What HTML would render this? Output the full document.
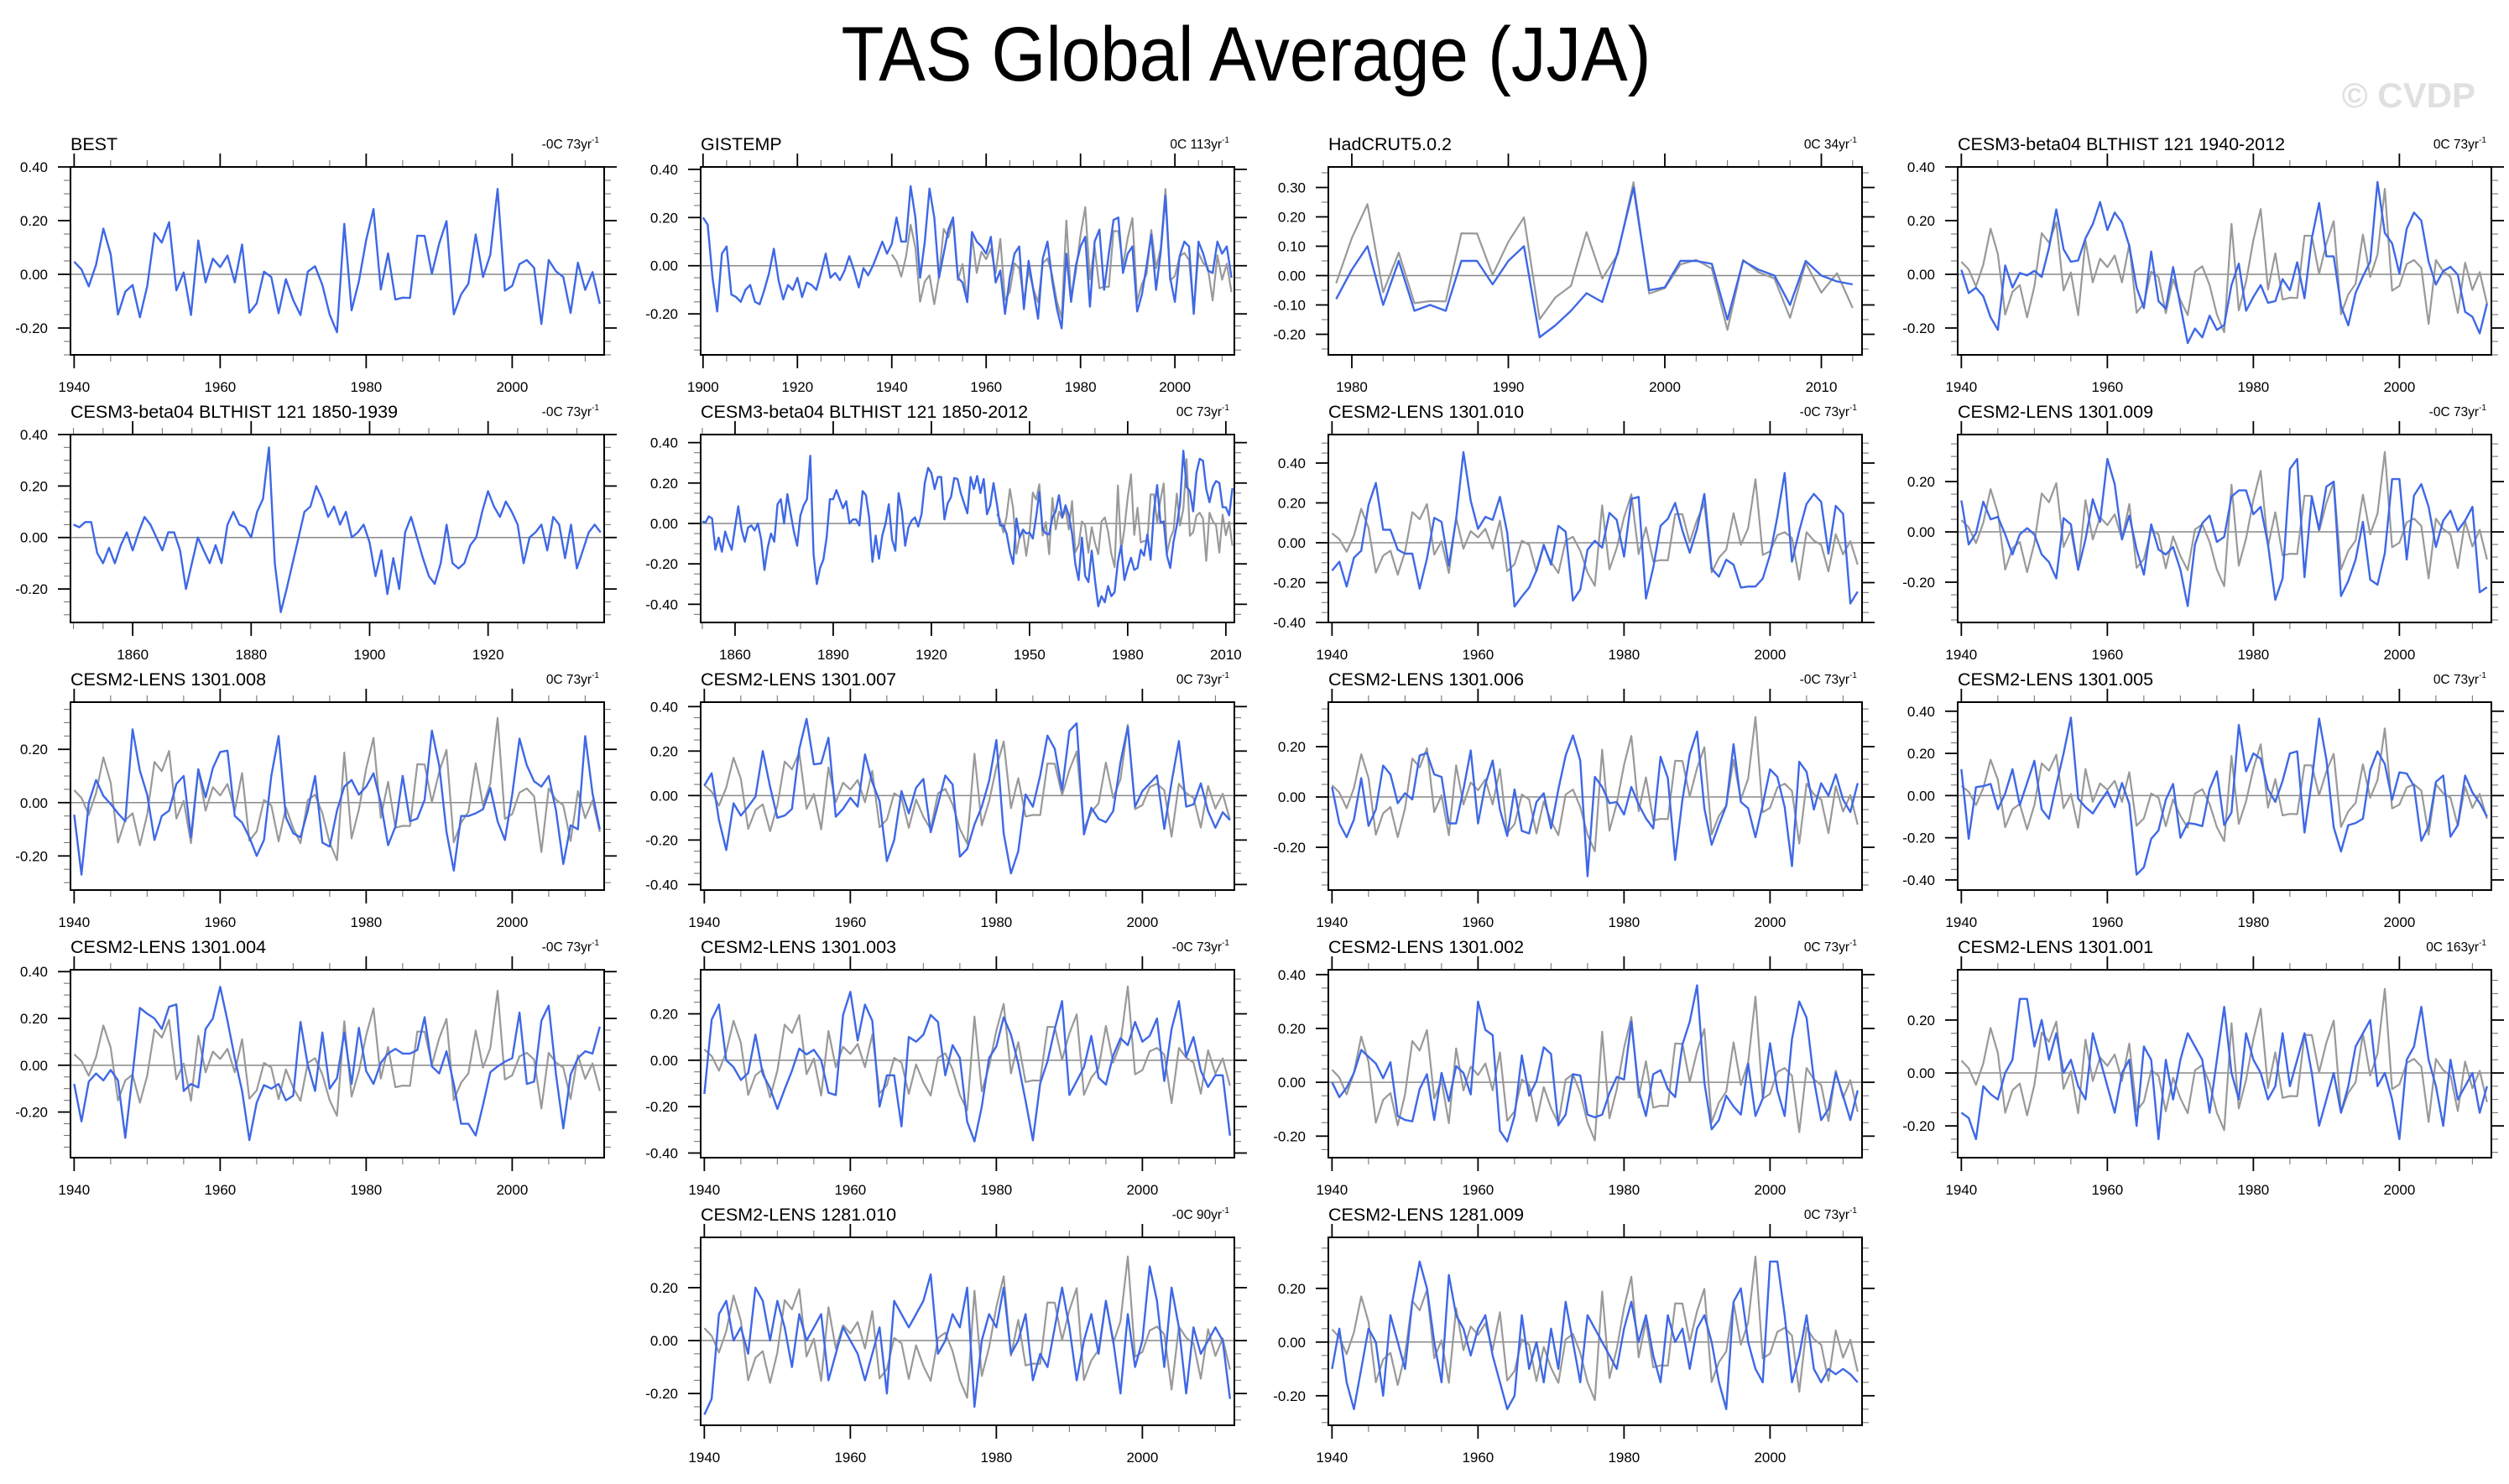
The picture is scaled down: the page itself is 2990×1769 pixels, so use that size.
<!DOCTYPE html>
<html><head><meta charset="utf-8"><title>TAS Global Average (JJA)</title>
<style>
html,body{margin:0;padding:0;background:#fff;}
svg{display:block;font-family:"Liberation Sans",Arial,sans-serif;}
</style></head>
<body>
<svg id="chart" width="2990" height="1769" viewBox="0 0 2990 1769" xmlns="http://www.w3.org/2000/svg">
<rect width="2990" height="1769" fill="#fff"/>
<text x="1485" y="96" font-size="92" text-anchor="middle" textLength="965" lengthAdjust="spacingAndGlyphs" fill="#000">TAS Global Average (JJA)</text>
<text x="2950" y="128" font-size="42" font-weight="bold" text-anchor="end" fill="#e0e0e0">© CVDP</text>
<g id="panels"></g>
</svg>
<script>
// Observed reference (BEST) 1940-2012 - gray line
const best = [.047,.018,-.045,.036,.17,.075,-.15,-.065,-.04,-.16,-.045,.153,.118,.194,-.06,.007,-.152,.126,-.03,.058,.027,.07,-.03,.111,-.143,-.108,.01,-.01,-.145,-.018,-.096,-.152,.01,.03,-.04,-.15,-.216,.188,-.134,-.026,.128,.243,-.057,.078,-.094,-.087,-.088,.144,.143,.002,.115,.198,-.149,-.075,-.035,.148,-.01,.073,.318,-.061,-.043,.038,.053,.024,-.185,.053,.011,-.01,-.144,.043,-.058,.008,-.11];
const gistemp = [.20,.17,-.05,-.19,.05,.08,-.12,-.13,-.15,-.10,-.08,-.15,-.16,-.10,-.03,.07,-.06,-.14,-.08,-.10,-.05,-.13,-.07,-.08,-.10,-.03,.05,-.05,-.03,-.06,-.02,.04,-.02,-.09,-.01,-.04,.00,.05,.10,.05,.09,.20,.10,.10,.33,.20,-.05,.10,.32,.20,-.05,.05,.15,.20,-.05,-.07,-.15,.14,.10,.08,.05,.12,-.07,-.02,-.20,-.05,.05,.08,-.18,.02,-.10,-.22,.03,.10,-.06,-.18,-.26,.05,-.15,.00,.08,.12,-.17,.10,.15,-.10,.05,.19,.20,-.03,.05,.08,-.19,-.12,.00,.13,-.10,.06,.29,-.05,-.15,.04,.10,.08,-.20,.10,.05,-.02,-.03,.10,.05,.08,-.05];
const hadcrut = [-.08,.02,.10,-.10,.05,-.12,-.10,-.12,.05,.05,-.03,.05,.10,-.21,-.17,-.12,-.06,-.09,.08,.30,-.05,-.04,.05,.05,.04,-.15,.05,.02,.00,-.10,.05,.00,-.02,-.03];
const c3_1940 = [.017,-.07,-.05,-.082,-.16,-.207,.033,-.049,.005,-.004,.013,-.01,.098,.242,.093,.047,.052,.134,.187,.269,.165,.23,.193,.106,-.049,-.126,.085,-.1,-.128,.027,-.117,-.256,-.202,-.235,-.154,-.207,-.189,-.04,.04,-.136,-.084,-.04,-.106,-.1,-.018,-.059,.045,-.089,.134,.266,.067,.067,-.117,-.19,-.069,-.008,.047,.344,.154,.115,.003,.17,.23,.2,.047,-.038,.012,.028,-.002,-.14,-.158,-.22,-.109];
const c3_1850a = [.05,.04,.06,.06,-.06,-.10,-.04,-.10,-.03,.02,-.05,.02,.08,.05,.00,-.05,.02,.02,-.05,-.20,-.10,.00,-.05,-.10,-.03,-.10,.05,.10,.05,.04,.00,.10,.15,.35,-.10,-.29,-.20,-.10,.00,.10,.12,.20,.15,.08,.12,.05,.10,.00,.02,.05,-.02,-.15,-.05,-.22,-.08,-.20,.02,.08,.00,-.08,-.15,-.18,-.10,.05,-.10,-.12,-.10,-.03,.00,.10,.18,.12,.08,.14,.10,.05,-.10,.00,.02,.05,-.05,.08,.05,-.08,.05,-.12,-.05,.02,.05,.02];
const c3_1850b = [.01,.005,.035,.025,-.13,-.07,-.14,-.04,-.09,-.13,-.02,.085,-.03,-.09,-.02,-.01,-.035,.00,-.08,-.23,-.12,-.05,-.09,.095,.12,.00,.145,.05,-.04,-.11,.04,.09,.12,.335,-.15,-.3,-.22,-.18,-.07,.12,.12,.165,.12,.075,.11,.00,.02,.02,-.01,.16,.14,.03,-.19,-.06,-.175,-.06,.00,.095,-.08,-.135,.15,.06,-.11,-.02,.015,.03,-.015,.045,.2,.275,.25,.17,.23,.23,.02,.1,.13,.225,.22,.15,.1,.05,.23,.17,.235,.15,.22,.045,.09,.2,.1,-.01,-.01,-.05,-.14,-.2,.025,-.07,-.03,-.05,-.045,-.075,.03,.155,-.03,-.05,-.055,.03,.06,.14,.03,.09,.04,-.05,-.2,-.28,-.07,-.26,-.29,-.135,-.28,-.41,-.36,-.39,-.31,-.36,-.34,-.19,-.11,-.28,-.22,-.17,-.23,-.22,-.13,-.16,-.055,-.18,.06,.19,.005,.01,-.16,-.22,-.09,-.01,.1,.36,.18,.16,.06,.25,.32,.31,.17,.105,.18,.21,.2,.08,.08,.04,.175];
const l010 = [-.14,-.095,-.22,-.075,-.04,.19,.3,.065,.065,-.035,-.055,-.055,-.23,-.08,.125,.105,-.115,.12,.455,.21,.07,.13,.115,.23,.05,-.32,-.27,-.225,-.14,-.01,-.11,.085,.055,-.29,-.235,-.035,.01,-.025,.15,.115,-.07,.22,.23,-.28,-.125,.085,.12,.2,.06,-.05,.07,.245,-.13,-.17,-.085,-.11,-.225,-.22,-.22,-.18,-.06,.13,.35,-.095,.06,.195,.245,.205,-.055,.185,.145,-.305,-.245];
const l009 = [.125,-.05,-.005,.12,.05,.06,-.01,-.09,-.01,.015,-.01,-.09,-.12,-.185,.055,.03,-.15,-.03,.13,.04,.29,.19,-.03,.065,-.07,-.17,.03,-.07,-.09,-.06,-.15,-.295,-.05,.035,.065,-.04,-.02,.14,.165,.165,.07,.1,-.05,-.27,-.185,.25,.29,-.18,.14,.01,.18,.2,-.255,-.195,-.11,.04,-.19,-.21,-.085,.21,.21,-.11,.145,.19,.1,-.06,.045,.085,.005,.045,.1,-.24,-.22];
const l008 = [-.045,-.27,.00,.085,.025,-.005,-.04,-.07,.275,.12,.03,-.14,-.05,-.03,.07,.1,-.13,.125,.02,.13,.19,.195,-.05,-.075,-.13,-.2,-.14,.1,.25,-.055,-.115,-.13,-.03,.1,-.15,-.165,-.03,.06,.085,.03,.06,.11,.00,-.16,-.09,.1,-.07,-.06,.01,.27,.14,-.11,-.255,-.05,-.05,-.04,-.025,.055,-.07,-.14,.03,.24,.14,.08,.06,.1,-.03,-.23,-.085,-.1,.25,.035,-.1];
const l007 = [.045,.1,-.11,-.245,-.035,-.09,-.05,-.005,.2,.04,-.1,-.09,-.06,.21,.345,.14,.145,.26,-.095,-.06,-.01,-.05,.185,.06,-.025,-.295,-.2,.02,-.08,.035,.075,-.165,-.04,.09,.05,-.275,-.24,-.13,-.05,.065,.25,-.17,-.35,-.25,.005,-.05,.09,.27,.21,.025,.29,.325,-.175,-.055,-.105,-.12,-.07,.15,.31,-.05,.02,.055,.09,-.15,.06,.245,-.05,-.04,.055,-.07,-.145,-.075,-.11];
const l006 = [.04,-.105,-.16,-.09,.075,-.115,-.05,.125,.09,-.025,.015,-.01,.165,.175,.09,.08,-.105,-.105,.03,.185,-.105,.05,.145,-.05,-.155,.03,-.135,-.145,-.02,.015,-.125,.03,.165,.245,.145,-.315,.08,.04,-.025,-.02,-.07,.04,-.03,-.085,-.125,.16,.075,-.25,-.01,.17,.26,-.045,-.19,-.11,-.035,.21,-.02,-.045,-.16,-.03,.11,.08,-.04,-.275,.14,.1,-.05,.055,.005,.09,-.01,-.06,.055];
const l005 = [.125,-.205,.04,.045,.055,-.065,.01,.125,-.045,.06,.165,-.065,-.11,.05,.2,.37,-.015,-.055,-.085,-.03,.02,-.055,.06,-.04,-.375,-.34,-.205,-.165,-.02,.055,-.2,-.13,-.135,-.145,.03,.115,-.14,-.08,.335,.115,.2,.175,.03,-.03,.07,.2,.21,-.175,.07,.365,.17,-.15,-.265,-.14,-.13,-.11,.12,.21,.15,-.02,.11,.105,.045,-.215,-.145,.065,.095,-.195,-.14,.095,.015,-.035,-.1];
const l004 = [-.08,-.24,-.07,-.035,-.065,-.02,-.065,-.31,-.04,.245,.22,.2,.155,.25,.26,-.11,-.08,-.095,.155,.2,.335,.19,.03,-.11,-.32,-.16,-.085,-.1,-.08,-.15,-.13,.185,.00,-.11,.14,-.1,-.055,.14,-.08,.16,-.025,-.08,.01,.05,.07,.05,.05,.065,.205,-.005,-.035,.06,-.08,-.25,-.25,-.3,-.17,-.03,-.005,.015,.03,.225,-.08,-.07,.19,.255,-.04,-.27,-.04,.03,.06,.05,.165];
const l003 = [-.145,.175,.24,.00,-.03,-.085,-.055,.11,-.06,-.12,-.21,-.125,-.045,.05,.025,.045,.00,-.14,-.15,.195,.295,.085,.24,.17,-.2,-.065,-.065,-.285,.1,.08,.11,.195,.165,-.065,.065,.01,-.265,-.35,-.2,.01,.06,.185,.11,-.015,-.175,-.345,-.1,-.005,.135,.255,-.15,-.09,-.03,.105,-.075,-.105,.02,.095,.065,.165,.08,.105,.18,-.09,.135,.255,.015,.1,-.045,-.115,-.065,-.065,-.325];
const l002 = [.00,-.055,-.02,.035,.12,.095,.07,.015,.075,-.125,-.14,-.145,-.025,.03,-.14,.035,-.07,.06,.035,-.045,.3,.195,.175,-.18,-.22,-.125,.1,-.05,.005,.13,.105,-.16,-.12,.03,.025,-.12,-.13,-.12,-.04,.02,.01,.225,-.03,-.125,.03,.045,-.025,-.055,.14,.225,.36,.00,-.175,-.14,-.05,-.09,-.12,.07,-.125,-.06,.145,-.03,-.125,.16,.3,.24,.01,-.14,-.1,.035,-.05,-.14,-.03];
const l001 = [-.15,-.17,-.25,-.05,-.08,-.10,.00,.05,.28,.28,.10,.20,.05,.15,.00,.05,-.05,-.10,.15,.05,-.05,-.15,.00,.05,-.20,.10,.05,-.25,.05,-.10,.05,.15,.10,.05,-.15,.05,.25,.00,-.10,.15,.05,.00,-.10,-.05,.15,-.05,.05,.15,.00,-.20,-.10,.00,-.15,-.05,.10,.15,.20,-.05,.00,-.10,-.25,.05,.10,.25,.05,-.05,-.20,.05,-.10,-.05,.00,-.15,-.05];
const m010 = [-.28,-.22,.10,.15,.00,.05,-.05,.20,.15,.00,.15,.05,-.10,.10,.00,.05,.10,-.15,-.05,.05,.00,-.05,-.15,-.05,.05,-.20,.15,.10,.05,.10,.15,.25,-.05,.00,.10,.05,.20,-.25,.00,.10,.05,.20,-.05,.00,.10,-.15,-.05,-.10,.05,.20,.05,-.15,.00,.10,-.05,.15,.00,-.20,.10,-.10,.00,.28,.15,-.10,.20,.05,-.20,.05,-.05,.00,.05,.00,-.22];
const m009 = [-.10,.05,-.15,-.25,-.10,.05,.00,-.20,.10,.00,-.10,.15,.30,.20,.00,-.15,.25,.10,.05,-.05,.05,.10,-.05,-.15,-.25,-.20,.10,-.10,.00,-.15,.05,-.10,.15,.00,-.15,.10,.05,.00,-.05,-.10,.05,.15,.00,.10,-.05,-.15,.10,.00,.05,-.10,.05,.10,.00,-.15,-.25,.15,.20,.00,-.10,-.15,.30,.30,.10,-.15,-.05,.10,-.10,-.15,-.10,-.12,-.10,-.12,-.15];

const titles = ["BEST","GISTEMP","HadCRUT5.0.2","CESM3-beta04 BLTHIST 121 1940-2012","CESM3-beta04 BLTHIST 121 1850-1939","CESM3-beta04 BLTHIST 121 1850-2012","CESM2-LENS 1301.010","CESM2-LENS 1301.009","CESM2-LENS 1301.008","CESM2-LENS 1301.007","CESM2-LENS 1301.006","CESM2-LENS 1301.005","CESM2-LENS 1301.004","CESM2-LENS 1301.003","CESM2-LENS 1301.002","CESM2-LENS 1301.001","CESM2-LENS 1281.010","CESM2-LENS 1281.009"];
const trendLabels = ["-0C 73yr","0C 113yr","0C 34yr","0C 73yr","-0C 73yr","0C 73yr","-0C 73yr","-0C 73yr","0C 73yr","0C 73yr","-0C 73yr","0C 73yr","-0C 73yr","-0C 73yr","0C 73yr","0C 163yr","-0C 90yr","0C 73yr"];
const blueSeries = [best,gistemp,hadcrut,c3_1940,c3_1850a,c3_1850b,l010,l009,l008,l007,l006,l005,l004,l003,l002,l001,m010,m009];
const startYears = [1940,1900,1979,1940,1850,1850,1940,1940,1940,1940,1940,1940,1940,1940,1940,1940,1940,1940];
const grayStart = [null,1940,1979,1940,null,1940,1940,1940,1940,1940,1940,1940,1940,1940,1940,1940,1940,1940];
const yMin = [-.3,-.37,-.27,-.3,-.33,-.49,-.40,-.36,-.328,-.425,-.37,-.448,-.395,-.42,-.28,-.32,-.32,-.31];
const yMax = [.4,.41,.37,.4,.40,.44,.543,.387,.377,.42,.377,.443,.408,.39,.418,.39,.39,.39];
const yStep = [.2,.2,.1,.2,.2,.2,.2,.2,.2,.2,.2,.2,.2,.2,.2,.2,.2,.2];
const xStep = [20,20,10,20,20,30,20,20,20,20,20,20,20,20,20,20,20,20];
const xFirstTick = [1940,1900,1980,1940,1860,1860,1940,1940,1940,1940,1940,1940,1940,1940,1940,1940,1940,1940];

const colLeft = [84,835,1583,2333];
const rowTop = [199,518,837,1156,1475];
const W = 636, H = 224;
const NS = "http://www.w3.org/2000/svg";
const root = document.getElementById('panels');

function mk(tag, attrs, parent){
  const e = document.createElementNS(NS, tag);
  for (const k in attrs) e.setAttribute(k, attrs[k]);
  parent.appendChild(e);
  return e;
}
function fmt(v){ return (Math.abs(v) < 1e-9 ? 0 : v).toFixed(2); }

titles.forEach((title, i) => {
  const col = i < 16 ? i % 4 : i - 15;
  const row = i < 16 ? Math.floor(i / 4) : 4;
  const L = colLeft[col], T = rowTop[row];
  const data = blueSeries[i];
  const x0 = startYears[i] - 0.5;
  const x1 = startYears[i] + data.length - 1 + 0.6;
  const xs = y => L + (y - x0) / (x1 - x0) * W;
  const ys = v => T + (yMax[i] - v) / (yMax[i] - yMin[i]) * H;

  const g = mk('g', {}, root);
  
  

  const t = mk('text', {x: L, y: T - 20, 'font-size': 21.5, fill: '#000'}, g);
  t.textContent = title;
  
  

  const tr = mk('text', {x: L + W - 6, y: T - 22, 'font-size': 15.5, 'text-anchor': 'end', fill: '#000'}, g);
  tr.textContent = trendLabels[i];
  const sup = mk('tspan', {dy: -7, 'font-size': 10}, tr);
  sup.textContent = '-1';
  
  

  const tk = mk('g', {stroke: '#000', 'stroke-width': 1.6}, g);
  
  
  const minorX = xStep[i] === 30 ? 10 : (xStep[i] === 10 ? 2 : 5);
  for (let yr = Math.ceil(x0 / minorX) * minorX; yr <= x1; yr += minorX) {
    const X = xs(yr);
    const major = ((yr - xFirstTick[i]) % xStep[i] === 0);
    const len = major ? 16 : 8;
    mk('line', {x1: X, y1: T, x2: X, y2: T - len, 'stroke-width': major ? 1.8 : 1.1, stroke: major ? '#000' : '#777'}, tk);
    mk('line', {x1: X, y1: T + H, x2: X, y2: T + H + len, 'stroke-width': major ? 1.8 : 1.1, stroke: major ? '#000' : '#777'}, tk);
    if (major) {
      const lb = mk('text', {x: X, y: T + H + 44, 'font-size': 17, 'text-anchor': 'middle', fill: '#000', stroke: 'none'}, g);
      lb.textContent = yr;
      
      
    }
  }
  for (let k = Math.ceil(yMin[i] / 0.05 - 1e-6); k * 0.05 <= yMax[i] + 1e-9; k++) {
    const v = k * 0.05;
    const Y = ys(v);
    const major = Math.abs(v / yStep[i] - Math.round(v / yStep[i])) < 1e-6;
    const len = major ? 15 : 8;
    mk('line', {x1: L, y1: Y, x2: L - len, y2: Y, 'stroke-width': major ? 1.8 : 1.1, stroke: major ? '#000' : '#777'}, tk);
    mk('line', {x1: L + W, y1: Y, x2: L + W + len, y2: Y, 'stroke-width': major ? 1.8 : 1.1, stroke: major ? '#000' : '#777'}, tk);
    if (major) {
      const lb = mk('text', {x: L - 27, y: Y + 6, 'font-size': 17, 'text-anchor': 'end', fill: '#000', stroke: 'none'}, g);
      lb.textContent = fmt(v);
      
      
    }
  }

  const z = mk('line', {x1: L, y1: ys(0), x2: L + W, y2: ys(0), stroke: '#888', 'stroke-width': 1.5}, g);
  
  

  const lastYear = startYears[i] + data.length - 1;
  if (grayStart[i] !== null) {
    const pts = [];
    best.forEach((v, j) => {
      const yr = 1940 + j;
      if (yr >= grayStart[i] && yr <= lastYear) pts.push(xs(yr).toFixed(1) + ',' + ys(v).toFixed(1));
    });
    const gl = mk('polyline', {points: pts.join(' '), fill: 'none', stroke: '#999', 'stroke-width': 2.2, 'stroke-linejoin': 'round'}, g);
    
    
  }
  const bp = data.map((v, j) => xs(startYears[i] + j).toFixed(1) + ',' + ys(v).toFixed(1));
  const bl = mk('polyline', {points: bp.join(' '), fill: 'none', stroke: '#3e68e6', 'stroke-width': 2.4, 'stroke-linejoin': 'round'}, g);
  
  

  const fr = mk('rect', {x: L, y: T, width: W, height: H, fill: 'none', stroke: '#000', 'stroke-width': 2}, g);
  
  
});
</script>
</body></html>
